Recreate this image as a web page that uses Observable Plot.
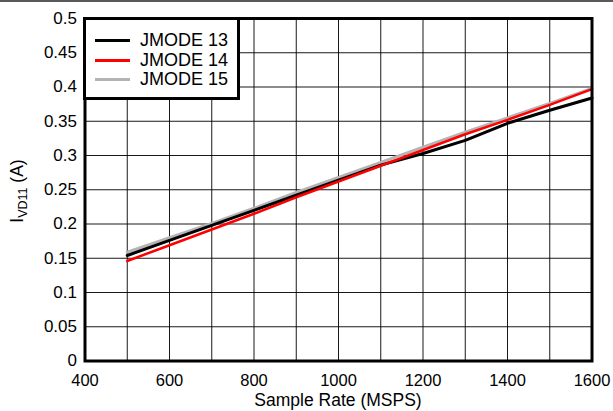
<!DOCTYPE html>
<html>
<head>
<meta charset="utf-8">
<script src="https://cdn.jsdelivr.net/npm/d3@7"></script>
<script src="https://cdn.jsdelivr.net/npm/@observablehq/plot@0.6"></script>
<style>
  html, body { margin: 0; padding: 0; background: #fff; }
  #wrap { position: relative; width: 613px; height: 411px; overflow: hidden; font-family: "Liberation Sans", Arial, sans-serif; }
  #topline { position: absolute; left: 0; top: 0; width: 613px; height: 2px; background: #5a5a5a; }
  #legend { position: absolute; left: 83px; top: 17px; width: 151px; height: 77px; border: 3px solid #000; background: #fff; }
  .entry { position: absolute; left: 0; height: 20px; width: 150px; }
  .swatch { position: absolute; left: 9px; top: 9px; width: 35px; height: 3px; }
  .lbl { position: absolute; left: 54px; top: 0; font-size: 18px; line-height: 20px; color: #000; white-space: nowrap; }
</style>
</head>
<body>
<div id="wrap"></div>
<script>
const sampleRates = [500, 600, 700, 800, 900, 1000, 1100, 1200, 1300, 1400, 1500, 1600];
const jmode13 = [0.154, 0.176, 0.198, 0.220, 0.242, 0.264, 0.286, 0.303, 0.322, 0.347, 0.366, 0.384];
const jmode14 = [0.146, 0.169, 0.192, 0.215, 0.239, 0.262, 0.285, 0.308, 0.331, 0.352, 0.374, 0.397];
const jmode15 = [0.159, 0.180, 0.201, 0.223, 0.246, 0.268, 0.290, 0.312, 0.334, 0.355, 0.376, 0.398];
const seriesNames = ["JMODE 13", "JMODE 14", "JMODE 15"];
const seriesColors = ["#000000", "#ff0000", "#b4b4b4"];
const xTicks = [400, 600, 800, 1000, 1200, 1400, 1600];
const xGrid = [500, 600, 700, 800, 900, 1000, 1100, 1200, 1300, 1400, 1500];
const yTicks = [0, 0.05, 0.1, 0.15, 0.2, 0.25, 0.3, 0.35, 0.4, 0.45, 0.5];
const yGrid = [0.05, 0.1, 0.15, 0.2, 0.25, 0.3, 0.35, 0.4, 0.45];

const seriesValues = [jmode13, jmode14, jmode15];
const rows = [];
seriesValues.forEach((vals, i) => vals.forEach((v, j) => rows.push({series: seriesNames[i], x: sampleRates[j], y: v})));
const drawOrder = ["JMODE 15", "JMODE 13", "JMODE 14"];
const FONT = "Liberation Sans, Arial, sans-serif";

const chart = Plot.plot({
  width: 613,
  height: 411,
  marginLeft: 84.5,
  marginRight: 21.5,
  marginTop: 18,
  marginBottom: 50.5,
  style: {fontFamily: FONT, fontSize: "17px", color: "#000", background: "transparent"},
  x: {domain: [400, 1600]},
  y: {domain: [0, 0.5]},
  marks: [
    Plot.ruleX(xGrid, {stroke: "#000", strokeWidth: 1, strokeOpacity: 0.9}),
    Plot.ruleY(yGrid, {stroke: "#000", strokeWidth: 1, strokeOpacity: 0.9}),
    ...drawOrder.map(name => Plot.line(rows.filter(d => d.series === name), {
      x: "x", y: "y", stroke: seriesColors[seriesNames.indexOf(name)],
      strokeWidth: name === "JMODE 14" ? 2.5 : 3
    })),
    Plot.axisX({ticks: xTicks, tickSize: 0, tickPadding: 13, tickFormat: d => String(d), label: null, fontSize: 16.5}),
    Plot.axisY({ticks: yTicks, tickSize: 0, tickPadding: 8, tickFormat: d => String(d), label: null, fontSize: 17}),
    Plot.frame({stroke: "#000", strokeWidth: 3})
  ]
});

const wrap = document.getElementById("wrap");
wrap.appendChild(chart);
const svg = d3.select(chart);

// axis titles
svg.append("text")
  .attr("x", 338).attr("y", 406)
  .attr("text-anchor", "middle")
  .attr("font-size", 17.5).attr("font-family", FONT)
  .attr("fill", "#000")
  .text("Sample Rate (MSPS)");

const yl = svg.append("text")
  .attr("transform", "translate(23,191) rotate(-90)")
  .attr("text-anchor", "middle")
  .attr("font-size", 17.5).attr("font-family", FONT)
  .attr("fill", "#000");
yl.append("tspan").text("I");
yl.append("tspan").attr("font-size", 12.5).attr("dy", 4).text("VD11");
yl.append("tspan").attr("dy", -4).text(" (A)");

// top border line
const topLineDiv = document.createElement("div");
topLineDiv.id = "topline";
wrap.appendChild(topLineDiv);

// legend
const legendDiv = document.createElement("div");
legendDiv.id = "legend";
seriesNames.forEach((name, i) => {
  const e = document.createElement("div");
  e.className = "entry";
  e.style.top = (10 + i * 19.7) + "px";
  const sw = document.createElement("div");
  sw.className = "swatch";
  sw.style.background = seriesColors[i];
  const lb = document.createElement("div");
  lb.className = "lbl";
  lb.textContent = name;
  e.appendChild(sw); e.appendChild(lb);
  legendDiv.appendChild(e);
});
wrap.appendChild(legendDiv);
</script>
</body>
</html>
